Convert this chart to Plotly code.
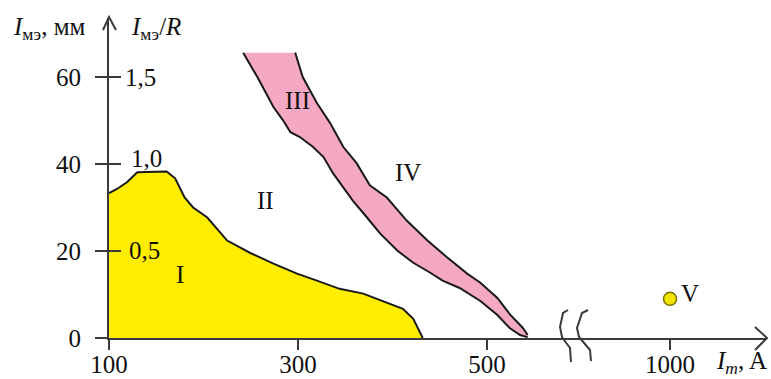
import plotly.graph_objects as go

# ---------------- data ----------------
# Region I (yellow) upper boundary: I_m [A] vs I_мэ [мм]
yellow_x = [100, 108, 119, 130, 161, 170, 180, 189, 204, 214, 225, 239, 249,
            274, 299, 320, 344, 369, 394, 411, 422, 432]
yellow_y = [33.3, 34.2, 35.8, 38.1, 38.3, 36.7, 32.3, 30.0, 27.7, 25.2, 22.4,
            20.8, 19.6, 17.1, 14.8, 13.2, 11.3, 10.2, 8.1, 6.7, 4.4, 0.0]

# Region III (pink band) – lower/left boundary
pink_left_x = [242, 257, 274, 284, 292, 302, 316, 327, 337, 348, 358, 373, 387,
               405, 422, 440, 453, 471, 493, 511, 524, 535, 543]
pink_left_y = [65.6, 60.0, 53.1, 50.1, 47.3, 46.2, 43.9, 41.6, 37.9, 34.6, 31.6,
               27.7, 24.0, 20.1, 17.3, 15.0, 13.2, 11.5, 8.5, 5.3, 2.3, 0.7, 0.2]
# Region III (pink band) – upper/right boundary
pink_right_x = [297, 305, 320, 334, 348, 362, 376, 394, 415, 437, 458, 479, 493,
                511, 524, 538, 543]
pink_right_y = [65.6, 60.0, 54.0, 49.4, 43.9, 40.2, 35.1, 32.3, 27.0, 22.4, 18.5,
                14.8, 12.7, 9.2, 5.5, 2.3, 0.7]

# Region V point
point_v_x = [1000]
point_v_y = [9]

# Region labels
region_names = ["I", "II", "III", "IV"]
region_x = [175, 266, 299, 416]
region_y = [14.5, 31.6, 54.7, 38.1]

# Tick labels
x_ticks_left = [100, 300, 500]
x_ticks_right = [1000]
y_ticks = [0, 20, 40, 60]
y_ticks_ratio = [20, 40, 60]
y_ratio_labels = ["0,5", "1,0", "1,5"]

# ---------------- layout helpers ----------------
W, H = 771, 379
def px(x):
    return x / W
def py(y):
    return 1 - y / H

FONT = "Liberation Serif, Times New Roman, serif"
FS = 25
TXT = "#111111"
AX = "#3a3a3a"
YELLOW = "#FFEE00"
PINK = "#F5A8C3"
EDGE = "#1a1a1a"

fig = go.Figure()

# Region I
fig.add_trace(go.Scatter(x=yellow_x, y=yellow_y, mode="lines", fill="tozeroy",
                         fillcolor=YELLOW, line=dict(color=EDGE, width=2),
                         hoverinfo="skip", showlegend=False))
# Region III fill
fig.add_trace(go.Scatter(x=pink_left_x + pink_right_x[::-1],
                         y=pink_left_y + pink_right_y[::-1],
                         mode="lines", fill="toself", fillcolor=PINK,
                         line=dict(width=0, color=PINK),
                         hoverinfo="skip", showlegend=False))
fig.add_trace(go.Scatter(x=pink_left_x, y=pink_left_y, mode="lines",
                         line=dict(color=EDGE, width=2), hoverinfo="skip", showlegend=False))
fig.add_trace(go.Scatter(x=pink_right_x, y=pink_right_y, mode="lines",
                         line=dict(color=EDGE, width=2), hoverinfo="skip", showlegend=False))
# Region V
fig.add_trace(go.Scatter(x=point_v_x, y=point_v_y, mode="markers", xaxis="x2", yaxis="y",
                         marker=dict(size=13, color="#F2E400",
                                     line=dict(color="#7a6f00", width=1.5)),
                         hoverinfo="skip", showlegend=False))

# invisible trace on the overlay y axis (for crossing ticks)
fig.add_trace(go.Scatter(x=[100], y=[0], xaxis="x", yaxis="y2", mode="markers",
                         marker=dict(opacity=0), hoverinfo="skip", showlegend=False))

y_dom = [py(338), py(18)]
axis_common = dict(showgrid=False, zeroline=False, showline=True, linecolor=AX,
                   linewidth=2, ticks="outside", tickcolor=AX, tickwidth=2,
                   tickfont=dict(family=FONT, size=FS, color=TXT), automargin=False)

fig.update_layout(
    width=W, height=H, margin=dict(l=0, r=0, t=0, b=0),
    paper_bgcolor="white", plot_bgcolor="white", showlegend=False,
    xaxis=dict(domain=[px(109), px(573)], range=[100, 100 + 464 / 0.945],
               tickvals=x_ticks_left, ticklen=10, ticklabelstandoff=-7,
               anchor="y", **axis_common),
    xaxis2=dict(domain=[px(573), px(767)], range=[1000 - 97 / 0.945, 1000 + 97 / 0.945],
                tickvals=x_ticks_right, ticklen=10, ticklabelstandoff=-7,
                anchor="y", **axis_common),
    yaxis=dict(domain=y_dom, range=[0, 320 / 4.35], tickvals=y_ticks, ticklen=12,
               ticklabelstandoff=9, anchor="x", **axis_common),
    yaxis2=dict(domain=y_dom, range=[0, 320 / 4.35], overlaying="y", anchor="x",
                side="left", tickvals=y_ticks, ticks="inside", ticklen=12,
                tickcolor=AX, tickwidth=2, showticklabels=False, showgrid=False,
                zeroline=False, showline=False),
)

ann = []
for name, xv, yv in zip(region_names, region_x, region_y):
    ann.append(dict(x=xv, y=yv, xref="x", yref="y", text=name, showarrow=False,
                    font=dict(family=FONT, size=FS, color=TXT)))
ann.append(dict(x=point_v_x[0], y=point_v_y[0], xref="x2", yref="y", text="V",
                showarrow=False, xshift=20, yshift=5,
                font=dict(family=FONT, size=FS, color=TXT)))
ratio_shift = {"0,5": (127, 1), "1,0": (129, 6), "1,5": (123, 0)}
for yv, lab in zip(y_ticks_ratio, y_ratio_labels):
    xs, ys = ratio_shift[lab]
    ann.append(dict(x=px(xs), y=yv, xref="paper", yref="y", text=lab, showarrow=False,
                    xanchor="left", yanchor="middle", yshift=ys,
                    font=dict(family=FONT, size=FS, color=TXT)))
ann.append(dict(x=px(87), y=py(28), xref="paper", yref="paper",
                text="<i>I</i><sub>мэ</sub>, мм", showarrow=False,
                xanchor="right", yanchor="middle", font=dict(family=FONT, size=FS, color=TXT)))
ann.append(dict(x=px(129), y=py(28), xref="paper", yref="paper",
                text="<i>I</i><sub>мэ</sub>/<i>R</i>", showarrow=False,
                xanchor="left", yanchor="middle", font=dict(family=FONT, size=FS, color=TXT)))
ann.append(dict(x=px(769), y=py(362), xref="paper", yref="paper",
                text="<i>I<sub>m</sub></i>, A", showarrow=False,
                xanchor="right", yanchor="middle", font=dict(family=FONT, size=FS, color=TXT)))
fig.update_layout(annotations=ann)

def path(points):
    return "M " + " L ".join(f"{px(a):.5f},{py(b):.5f}" for a, b in points)

shapes = [
    # y-axis arrow head
    dict(type="path", xref="paper", yref="paper",
         path=path([(103, 30), (109, 17), (116, 30)]),
         line=dict(color=AX, width=2)),
    # x-axis arrow head
    dict(type="path", xref="paper", yref="paper",
         path=path([(755, 327), (767, 338), (755, 350)]),
         line=dict(color=AX, width=2)),
    # axis break marks
    dict(type="path", xref="paper", yref="paper",
         path=path([(568, 310), (563, 313), (560, 327), (562, 337), (570, 348), (571, 362)]),
         line=dict(color=AX, width=2)),
    dict(type="path", xref="paper", yref="paper",
         path=path([(588, 310), (582, 313), (577, 328), (579, 337), (590, 350), (591, 361)]),
         line=dict(color=AX, width=2)),
]
fig.update_layout(shapes=shapes)

fig.write_html("out.html", config={"displayModeBar": False},
               post_script="document.body.style.margin='0';document.body.style.overflow='hidden';")
